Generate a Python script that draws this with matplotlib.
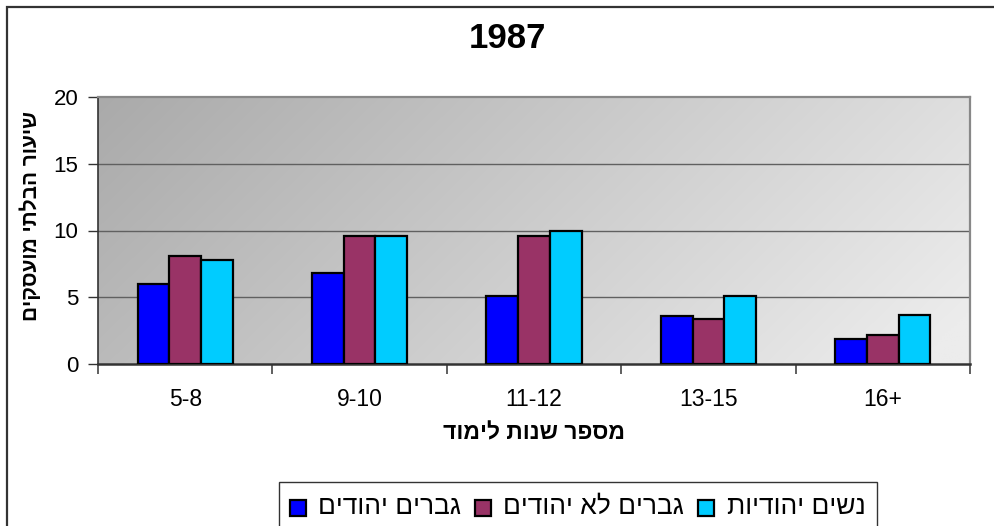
import numpy as np
import matplotlib
matplotlib.use("Agg")
import matplotlib.pyplot as plt
from matplotlib.patches import Rectangle

def heb(s):
    # matplotlib has no bidi support: reverse Hebrew for visual order
    return s[::-1]

categories = ["5-8", "9-10", "11-12", "13-15", "16+"]
series_names = ["גברים יהודים", "גברים לא יהודים", "נשים יהודיות"]
jewish_men = [6.0, 6.8, 5.1, 3.6, 1.9]
nonjewish_men = [8.1, 9.6, 9.6, 3.4, 2.2]
jewish_women = [7.8, 9.6, 10.0, 5.1, 3.7]
colors = ["#0000FF", "#993366", "#00CCFF"]
yticks = [0, 5, 10, 15, 20]
title = "1987"
ylabel = "שיעור הבלתי מועסקים"
xlabel = "מספר שנות לימוד"

FONT = ["Liberation Sans", "DejaVu Sans"]
plt.rcParams["font.family"] = FONT

W, H = 995, 526
fig = plt.figure(figsize=(W / 100, H / 100), dpi=100)
fig.patch.set_facecolor("white")

def fx(px):
    return px / W

def fy(py):
    return 1 - py / H

# outer chart border (cut off at right and bottom)
fig.patches.append(Rectangle((fx(7), -0.1), 1.2, fy(7) + 0.1, transform=fig.transFigure,
                             fill=False, edgecolor="#333333", linewidth=1.6, zorder=0))

ax = fig.add_axes([fx(98), fy(364), 872 / W, 267 / H])
n = len(categories)

# gradient background (dark upper-left to light right)
gx = np.linspace(0, 1, 300)
gy = np.linspace(0, 1, 150)
U, V = np.meshgrid(gx, gy)
t = np.clip(0.80 * U + 0.25 * V, 0, 1)
val = (170 + (236 - 170) * t) / 255.0
img = np.dstack([val, val, val])
ax.imshow(img, extent=(0, n, 0, 20), origin="upper", aspect="auto", zorder=0,
          interpolation="bilinear")
ax.set_xlim(0, n)
ax.set_ylim(0, 20)

for yv in yticks[1:-1]:
    ax.axhline(yv, color="#606060", linewidth=1.0, zorder=1)

series = [jewish_men, nonjewish_men, jewish_women]
w = 0.182
x = np.arange(n) + 0.5
for i, (vals, c) in enumerate(zip(series, colors)):
    ax.bar(x + (i - 1.5) * w, vals, width=w, align="edge", color=c,
           edgecolor="black", linewidth=1.6, zorder=3)

ax.set_yticks(yticks)
ax.set_yticklabels([str(v) for v in yticks], fontsize=16)
ax.set_xticks(x)
ax.set_xticklabels(categories, fontsize=16.5)
ax.set_xticks(np.arange(n + 1), minor=True)
ax.tick_params(axis="x", which="major", length=0, pad=17)
ax.tick_params(axis="x", which="minor", length=7, width=1.2, color="#444444", direction="out")
ax.tick_params(axis="y", length=7, width=1.0, color="#333333", direction="out", pad=7)

for s in ["top", "right"]:
    ax.spines[s].set_color("#888888")
    ax.spines[s].set_linewidth(1.6)
ax.spines["left"].set_color("#333333")
ax.spines["left"].set_linewidth(1.2)
ax.spines["bottom"].set_color("#333333")
ax.spines["bottom"].set_linewidth(1.8)

fig.text(fx(507), fy(38), title, ha="center", va="center", fontsize=25, fontweight="bold")
fig.text(fx(534), fy(433), heb(xlabel), ha="center", va="center", fontsize=16.5,
         fontweight="bold")
fig.text(fx(30), fy(216), heb(ylabel), ha="center", va="center", rotation=90,
         fontsize=15, fontweight="bold")

# legend (manually laid out, box cut off at the bottom)
fig.patches.append(Rectangle((fx(279), fy(545)), (877 - 279) / W, (545 - 482) / H,
                             transform=fig.transFigure, facecolor="white",
                             edgecolor="#333333", linewidth=1.0, zorder=4))
marker_x = [290, 475, 698]
text_x = [318, 503, 727]
for mx, tx, c, name in zip(marker_x, text_x, colors, series_names):
    fig.patches.append(Rectangle((fx(mx), fy(516)), 16 / W, 16 / H, transform=fig.transFigure,
                                 facecolor=c, edgecolor="black", linewidth=1.6, zorder=5))
    fig.text(fx(tx), fy(507), heb(name), ha="left", va="center", fontsize=19, zorder=6)

fig.savefig("out.png", dpi=100)
